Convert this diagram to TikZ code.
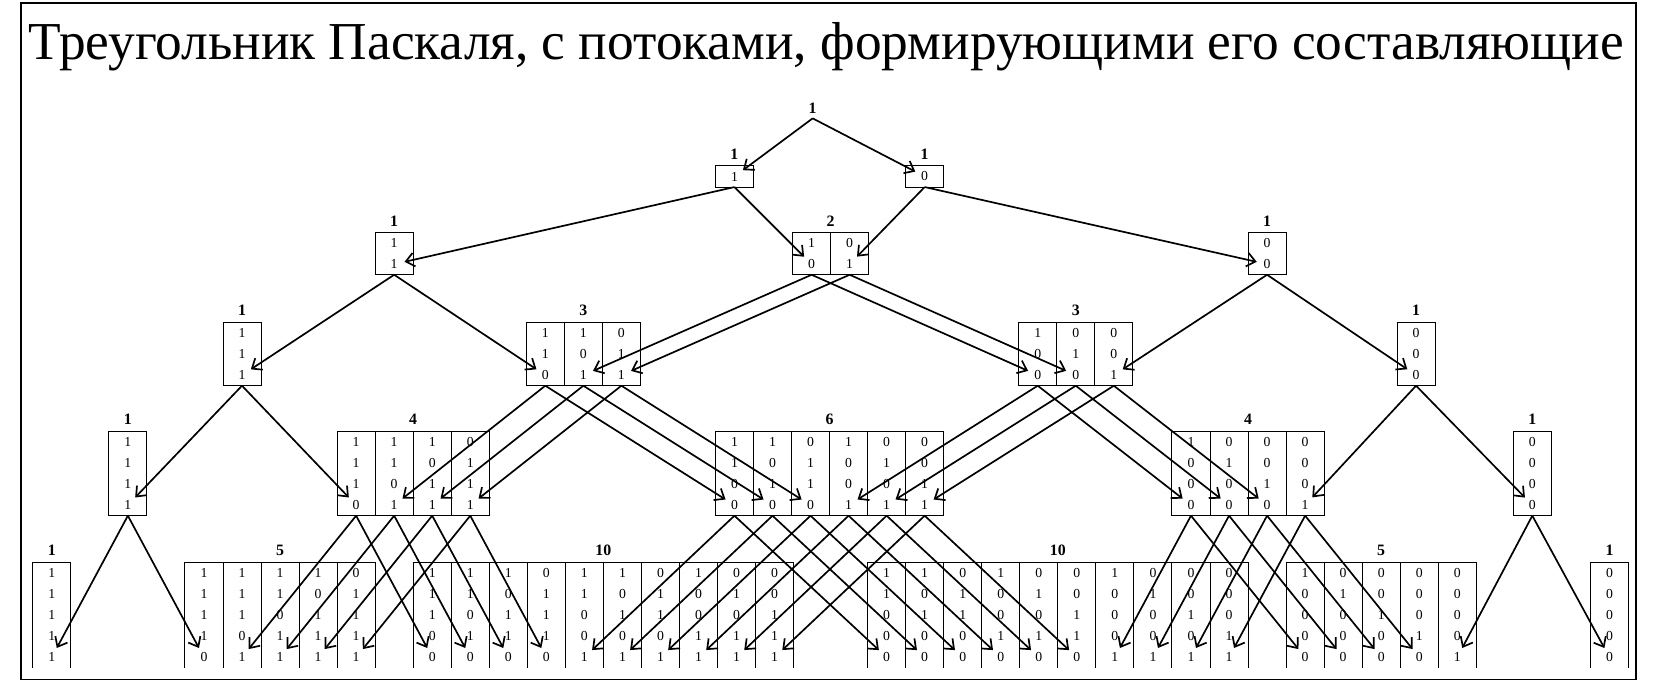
\documentclass[tikz,border=0pt]{standalone}
\usepackage{fontspec}
\setmainfont{Liberation Serif}
\usepackage{xstring}
\usetikzlibrary{arrows.meta}
\tikzset{
 arr/.style={-{Straight Barb[length=8pt,width=13pt,line width=1.6pt]}, line width=1.6pt, shorten >=10pt},
 cell/.style={line width=0.9pt},
 dig/.style={inner sep=0pt, font=\fontsize{13}{13}\selectfont},
 lab/.style={inner sep=0pt, font=\fontsize{15}{15}\selectfont\bfseries}
}
\newcommand\pcols[3]{% left, top, list
 \foreach \s [count=\j from 0] in {#3} {
  \StrLen{\s}[\len]
  \pgfmathsetmacro\xc{#1+36*\j+18}
  \foreach \k in {1,...,\len}{\StrChar{\s}{\k}[\ch]\node[dig] at (\xc,#2+20*\k-10) {\ch};}
  \coordinate (n-\s-b) at (\xc,#2+20*\len);
  \coordinate (n-\s-d) at (\xc,#2+20*\len-10);
 }}
\newcommand\pbox[6]{% left, top, label, ncols, nrows, list
 \draw[cell] (#1,#2) rectangle ++(36*#4,20*#5);
 \foreach \m in {1,...,#4}{\ifnum\m<#4\relax\draw[cell] (#1+36*\m,#2) -- ++(0,20*#5);\fi}
 \node[lab] at (#1+18*#4,#2-11) {#3};
 \pcols{#1}{#2}{#6}}
\newcommand\obox[5]{% open bottom: left, top, label, ncols, list
 \draw[cell] (#1,#2+100) -- (#1,#2) -- ++(36*#4,0) -- ++(0,100);
 \foreach \m in {1,...,#4}{\ifnum\m<#4\relax\draw[cell] (#1+36*\m,#2) -- ++(0,100);\fi}
 \node[lab] at (#1+18*#4,#2-11) {#3};
 \pcols{#1}{#2}{#5}}
\begin{document}
\begin{tikzpicture}[x=1pt,y=-1pt]
\useasboundingbox (0,0) rectangle (1568,645);
\draw[line width=1.5pt] (20,3) rectangle (1548,643);
\node[inner sep=0pt, font=\fontsize{50.5}{56}\selectfont] (title) at (782,44) {Треугольник Паскаля, с потоками, формирующими его составляющие};
\node[lab] (top) at (769,102) {1};
\coordinate (n--b) at (769,112);
% row 1
\pbox{677}{157}{1}{1}{1}{1}
\pbox{857}{157}{1}{1}{1}{0}
% row 2
\pbox{355}{220}{1}{1}{2}{11}
\pbox{750}{220}{2}{2}{2}{10,01}
\pbox{1181}{220}{1}{1}{2}{00}
% row 3
\pbox{211}{305}{1}{1}{3}{111}
\pbox{498}{305}{3}{3}{3}{110,101,011}
\pbox{964}{305}{3}{3}{3}{100,010,001}
\pbox{1322}{305}{1}{1}{3}{000}
% row 4
\pbox{103}{408}{1}{1}{4}{1111}
\pbox{319}{408}{4}{4}{4}{1110,1101,1011,0111}
\pbox{677}{408}{6}{6}{4}{1100,1010,0110,1001,0101,0011}
\pbox{1109}{408}{4}{4}{4}{1000,0100,0010,0001}
\pbox{1432}{408}{1}{1}{4}{0000}
% row 5
\obox{31}{532}{1}{1}{11111}
\obox{175}{532}{5}{5}{11110,11101,11011,10111,01111}
\obox{391}{532}{10}{10}{11100,11010,10110,01110,11001,10101,01101,10011,01011,00111}
\obox{821}{532}{10}{10}{11000,10100,01100,10010,01010,00110,10001,01001,00101,00011}
\obox{1217}{532}{5}{5}{10000,01000,00100,00010,00001}
\obox{1505}{532}{1}{1}{00000}
% arrows
\draw[arr] (n--b) -- (n-1-d);
\draw[arr] (n--b) -- (n-0-d);
\foreach \s in {1,0,11,10,01,00,111,110,101,011,100,010,001,000,1111,1110,1101,1011,0111,1100,1010,0110,1001,0101,0011,1000,0100,0010,0001,0000}{
 \draw[arr] (n-\s-b) -- (n-\s1-d);
 \draw[arr] (n-\s-b) -- (n-\s0-d);
}
\end{tikzpicture}
\end{document}
